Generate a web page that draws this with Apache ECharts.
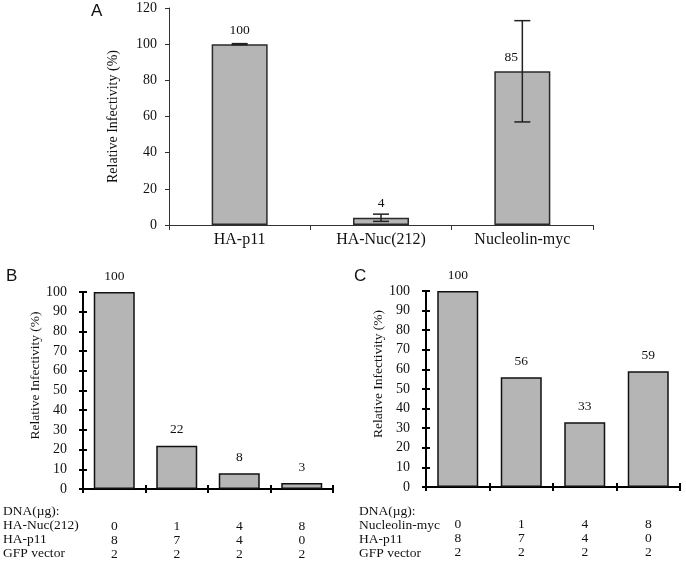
<!DOCTYPE html>
<html>
<head>
<meta charset="utf-8">
<script src="https://cdn.jsdelivr.net/npm/echarts@6/dist/echarts.min.js"></script>
<style>
html,body{margin:0;padding:0;background:#fff;}
#c{width:686px;height:563px;}
</style>
</head>
<body>
<div id="c"></div>
<script>
// ---- Data ----
const catsA = ['HA-p11', 'HA-Nuc(212)', 'Nucleolin-myc'];
const valsA = [100, 4, 85];
const errA = [0.3, 2, 28];

const colsB = ['1', '2', '3', '4'];
const valsB = [100, 22, 8, 3];
const rowNamesB = ['DNA(\u00b5g):', 'HA-Nuc(212)', 'HA-p11', 'GFP vector'];
const nucB = [0, 1, 4, 8];
const p11B = [8, 7, 4, 0];
const gfpB = [2, 2, 2, 2];

const colsC = ['1', '2', '3', '4'];
const valsC = [100, 56, 33, 59];
const rowNamesC = ['DNA(\u00b5g):', 'Nucleolin-myc', 'HA-p11', 'GFP vector'];
const nucC = [0, 1, 4, 8];
const p11C = [8, 7, 4, 0];
const gfpC = [2, 2, 2, 2];

const yNameText = 'Relative Infectivity (%)';

// ---- Styles ----
const SERIF = '"Liberation Serif", "Times New Roman", serif';
const SANS = '"Liberation Sans", Arial, sans-serif';
const BAR_FILL = '#b5b5b5';
const labelOffsetsA = [[0, 0], [0, 0], [-11, 0]];

const chart = echarts.init(document.getElementById('c'));

function colLabels(a, b, c) {
  return (v, i) => a[i] + '\n' + b[i] + '\n' + c[i];
}

function panelAxes(gridIndex, cats, labels, nameGap) {
  const x = [
    {
      type: 'category', gridIndex, data: cats, position: 'bottom',
      axisLine: { lineStyle: { color: '#000', width: 2 } },
      axisTick: { show: true, inside: false, length: 4, lineStyle: { color: '#000', width: 2 } },
      axisLabel: { formatter: labels, fontFamily: SERIF, fontSize: 13.5, color: '#111', lineHeight: 14, margin: 30, interval: 0 }
    },
    {
      type: 'category', gridIndex, data: cats, position: 'bottom',
      axisLine: { show: false },
      axisTick: { show: true, inside: true, length: 4, lineStyle: { color: '#000', width: 2 } },
      axisLabel: { show: false }
    }
  ];
  const y = [
    {
      type: 'value', gridIndex, min: 0, max: 100, interval: 10, position: 'left',
      name: yNameText, nameLocation: 'middle', nameGap: nameGap, nameRotate: 90,
      nameTextStyle: { fontFamily: SERIF, fontSize: 13.5, color: '#111', padding: [0, 0, 0, 30] },
      splitLine: { show: false },
      axisLine: { show: true, lineStyle: { color: '#000', width: 2 } },
      axisTick: { show: true, inside: false, length: 4, lineStyle: { color: '#000', width: 2 } },
      axisLabel: { fontFamily: SERIF, fontSize: 14, color: '#111', margin: 16 }
    },
    {
      type: 'value', gridIndex, min: 0, max: 100, interval: 10, position: 'left',
      splitLine: { show: false },
      axisLine: { show: false },
      axisTick: { show: true, inside: true, length: 4, lineStyle: { color: '#000', width: 2 } },
      axisLabel: { show: false }
    }
  ];
  return { x, y };
}

const axB = panelAxes(1, colsB, colLabels(nucB, p11B, gfpB), 41);
const axC = panelAxes(2, colsC, colLabels(nucC, p11C, gfpC), 41);

const barLabel = {
  show: true, position: 'top', distance: 9,
  fontFamily: SERIF, fontSize: 13.5, color: '#111'
};

const option = {
  animation: false,
  backgroundColor: '#fff',
  grid: [
    { left: 169, top: 8, width: 424, height: 217 },
    { left: 83, top: 292, width: 250, height: 197 },
    { left: 426, top: 291, width: 254, height: 196 }
  ],
  xAxis: [
    {
      type: 'category', gridIndex: 0, data: catsA,
      axisLine: { lineStyle: { color: '#333', width: 1 } },
      axisTick: { show: true, length: 5, lineStyle: { color: '#333' } },
      axisLabel: { fontFamily: SERIF, fontSize: 16, color: '#111', margin: 7 }
    },
    axB.x[0], axB.x[1], axC.x[0], axC.x[1]
  ],
  yAxis: [
    {
      type: 'value', gridIndex: 0, min: 0, max: 120, interval: 20,
      name: yNameText, nameLocation: 'middle', nameGap: 49, nameRotate: 90,
      nameTextStyle: { fontFamily: SERIF, fontSize: 14, color: '#111' },
      splitLine: { show: false },
      axisLine: { show: true, lineStyle: { color: '#333', width: 1 } },
      axisTick: { show: true, length: 4, lineStyle: { color: '#333' } },
      axisLabel: { fontFamily: SERIF, fontSize: 14, color: '#111', margin: 12 }
    },
    axB.y[0], axB.y[1], axC.y[0], axC.y[1]
  ],
  graphic: [
    { type: 'text', left: 91, top: 3, style: { text: 'A', font: '17px ' + SANS, fill: '#111' } },
    { type: 'text', left: 6, top: 268, style: { text: 'B', font: '17px ' + SANS, fill: '#111' } },
    { type: 'text', left: 354, top: 268, style: { text: 'C', font: '17px ' + SANS, fill: '#111' } },
    { type: 'text', left: 3, top: 504, style: { text: rowNamesB.join('\n'), font: '13.5px ' + SERIF, lineHeight: 14, fill: '#111' } },
    { type: 'text', left: 359, top: 504, style: { text: rowNamesC.join('\n'), font: '13.5px ' + SERIF, lineHeight: 14, fill: '#111' } }
  ],
  series: [
    {
      type: 'bar', xAxisIndex: 0, yAxisIndex: 0, barWidth: 56,
      data: valsA.map((v, i) => ({ value: v, label: { offset: labelOffsetsA[i] } })),
      itemStyle: { color: BAR_FILL, borderColor: '#2a2a2a', borderWidth: 1.5 },
      label: { show: true, position: 'top', distance: 7, fontFamily: SERIF, fontSize: 13.5, color: '#111' }
    },
    {
      type: 'custom', xAxisIndex: 0, yAxisIndex: 0, z: 5,
      data: catsA.map((c, i) => [i, valsA[i], errA[i]]),
      renderItem: function (params, api) {
        const i = api.value(0), v = api.value(1), e = api.value(2);
        const top = api.coord([i, v + e]);
        const bot = api.coord([i, v - e]);
        const hw = 8;
        const st = { stroke: '#222', lineWidth: 1.5 };
        return {
          type: 'group',
          children: [
            { type: 'line', shape: { x1: top[0], y1: top[1], x2: bot[0], y2: bot[1] }, style: st },
            { type: 'line', shape: { x1: top[0] - hw, y1: top[1], x2: top[0] + hw, y2: top[1] }, style: st },
            { type: 'line', shape: { x1: bot[0] - hw, y1: bot[1], x2: bot[0] + hw, y2: bot[1] }, style: st }
          ]
        };
      }
    },
    {
      type: 'bar', xAxisIndex: 1, yAxisIndex: 1, barWidth: 41, data: valsB,
      itemStyle: { color: BAR_FILL, borderColor: '#111', borderWidth: 1.5 },
      label: barLabel
    },
    {
      type: 'bar', xAxisIndex: 3, yAxisIndex: 3, barWidth: 41, data: valsC,
      itemStyle: { color: BAR_FILL, borderColor: '#111', borderWidth: 1.5 },
      label: barLabel
    }
  ]
};

chart.setOption(option);
</script>
</body>
</html>
